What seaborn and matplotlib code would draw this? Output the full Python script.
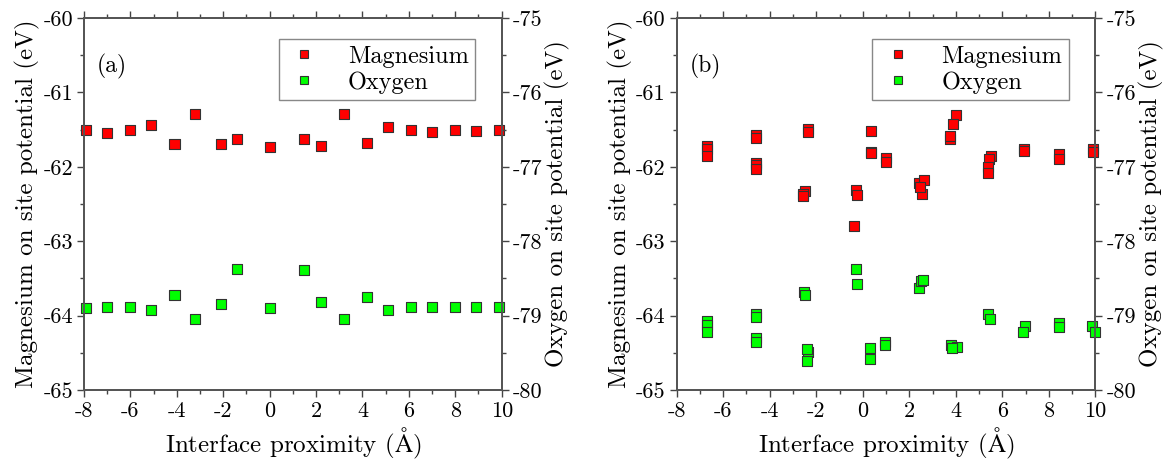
import numpy as np
import pandas as pd
import seaborn as sns
import matplotlib.pyplot as plt
from matplotlib.ticker import MultipleLocator

# panel (a) values
a_x = [-7.9, -7.0, -6.0, -5.1, -4.1, -3.2, -2.1, -1.4, 0.0, 1.5,
       2.2, 3.2, 4.2, 5.1, 6.1, 7.0, 8.0, 8.9, 9.9]
a_mg = [-61.51, -61.54, -61.50, -61.44, -61.70, -61.29, -61.69, -61.62, -61.74, -61.62,
        -61.72, -61.29, -61.68, -61.47, -61.50, -61.53, -61.51, -61.52, -61.51]
a_ox = [-63.90, -63.88, -63.89, -63.92, -63.73, -64.04, -63.85, -63.38, -63.90, -63.39,
        -63.82, -64.04, -63.75, -63.92, -63.89, -63.88, -63.89, -63.89, -63.89]

# panel (b) values
b_mg_x = [-6.7, -6.7, -6.7, -4.6, -4.6, -4.6, -4.6, -4.6, -2.37, -2.35,
          -2.5, -2.55, -2.55, 0.34, 0.35, 0.35, 1.0, 0.99, -0.3, -0.26,
          -0.36, 2.43, 2.63, 2.53, 2.45, 4.02, 3.88, 3.76, 3.77, 5.51,
          5.44, 5.40, 5.40, 6.94, 6.92, 8.44, 8.44, 9.88, 9.88]
b_mg = [-61.72, -61.76, -61.85, -61.57, -61.61, -61.95, -61.98, -62.03, -61.49, -61.53,
        -62.32, -62.36, -62.39, -61.52, -61.80, -61.82, -61.88, -61.93, -62.31, -62.38,
        -62.79, -62.22, -62.18, -62.37, -62.27, -61.30, -61.42, -61.63, -61.59, -61.85,
        -61.89, -62.00, -62.09, -61.76, -61.79, -61.83, -61.89, -61.76, -61.80]
b_ox_x = [-6.7, -6.7, -6.7, -4.6, -4.6, -4.6, -4.6, -2.53, -2.5, -2.34,
          -2.40, -2.38, -0.30, -0.26, 0.32, 0.31, 0.96, 0.96, 2.42, 2.49,
          2.60, 3.79, 4.04, 3.85, 5.37, 5.47, 6.97, 6.90, 8.44, 8.44,
          9.86, 10.0]
b_ox = [-64.08, -64.13, -64.22, -63.98, -64.02, -64.30, -64.35, -63.68, -63.72, -64.49,
        -64.61, -64.45, -63.38, -63.57, -64.43, -64.59, -64.35, -64.40, -63.63, -63.54,
        -63.52, -64.40, -64.42, -64.43, -63.98, -64.05, -64.14, -64.22, -64.10, -64.15,
        -64.14, -64.22]

sns.set_style("ticks")
plt.rcParams['font.family'] = ['cmr10', 'DejaVu Serif']
plt.rcParams['mathtext.fontset'] = 'cm'
plt.rcParams['axes.unicode_minus'] = False
plt.rcParams['text.color'] = 'black'
plt.rcParams['axes.labelcolor'] = 'black'
plt.rcParams['xtick.labelcolor'] = 'black'
plt.rcParams['ytick.labelcolor'] = 'black'

fig = plt.figure(figsize=(11.7, 4.62), dpi=100)
ax_a = fig.add_axes([0.0718, 0.156, 0.357, 0.805])
ax_b = fig.add_axes([0.5784, 0.156, 0.3578, 0.805])

def draw_panel(ax, mg_x, mg_y, ox_x, ox_y, tag):
    df = pd.concat([
        pd.DataFrame({"x": mg_x, "y": mg_y, "el": "Magnesium"}),
        pd.DataFrame({"x": ox_x, "y": ox_y, "el": "Oxygen"}),
    ])
    sns.scatterplot(data=df, x="x", y="y", hue="el", ax=ax, marker="s", s=52,
                    palette={"Magnesium": "#ff0000", "Oxygen": "#00ff00"},
                    edgecolor="#333333", linewidth=0.8, clip_on=False, zorder=3)
    ax.set_xlim(-8, 10)
    ax.set_ylim(-65, -60)
    ax.xaxis.set_major_locator(MultipleLocator(2))
    ax.xaxis.set_minor_locator(MultipleLocator(1))
    ax.yaxis.set_major_locator(MultipleLocator(1))
    ax.yaxis.set_minor_locator(MultipleLocator(0.5))
    ax.set_xlabel(r"Interface proximity ($\mathrm{\AA}$)", fontsize=18, labelpad=4)
    ax.set_ylabel("Magnesium on site potential (eV)", fontsize=18, labelpad=2)
    ax.tick_params(axis="both", which="major", labelsize=16, length=5, width=1,
                   color="#444444", direction="out", pad=3)
    ax.tick_params(axis="both", which="minor", length=3, width=1,
                   color="#444444", direction="out")
    ax.tick_params(axis="x", which="both", top=True, labeltop=False)
    for sp in ax.spines.values():
        sp.set_color("#555555")
        sp.set_linewidth(1.3)
    ax.text(0.03, 0.87, tag, transform=ax.transAxes, fontsize=17, va="center")
    leg = ax.legend(loc="upper right", bbox_to_anchor=(0.965, 0.975), fontsize=17.5,
                    markerscale=0.7, handletextpad=1.0, borderpad=0.25,
                    labelspacing=0.15, handlelength=1.6, fancybox=False, framealpha=1)
    leg.get_frame().set_edgecolor("#888888")
    leg.get_frame().set_linewidth(1.0)

    ax2 = ax.twinx()
    ax2.set_ylim(-80, -75)
    ax2.yaxis.set_major_locator(MultipleLocator(1))
    ax2.yaxis.set_minor_locator(MultipleLocator(0.5))
    ax2.set_ylabel("Oxygen on site potential (eV)", fontsize=18, labelpad=2)
    ax2.tick_params(axis="y", which="major", labelsize=16, length=5, width=1,
                    color="#444444", direction="out", pad=3)
    ax2.tick_params(axis="y", which="minor", length=3, width=1,
                    color="#444444", direction="out")
    for sp in ax2.spines.values():
        sp.set_color("#555555")
        sp.set_linewidth(1.3)

draw_panel(ax_a, a_x, a_mg, a_x, a_ox, "(a)")
draw_panel(ax_b, b_mg_x, b_mg, b_ox_x, b_ox, "(b)")

fig.savefig("out.png", dpi=100)
